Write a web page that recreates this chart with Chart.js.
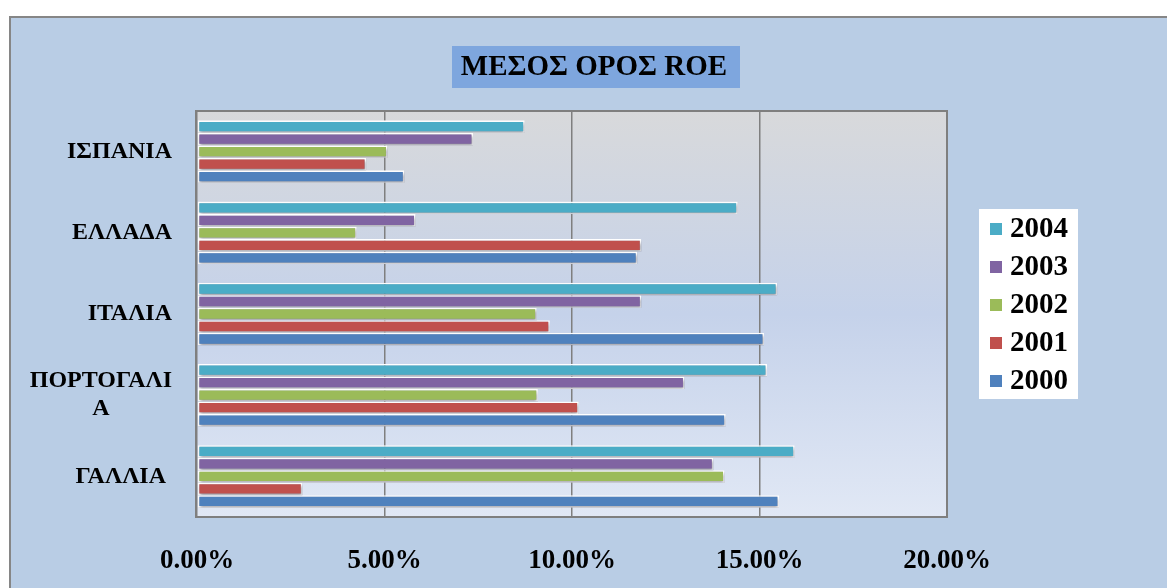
<!DOCTYPE html>
<html><head><meta charset="utf-8">
<script src="https://cdn.jsdelivr.net/npm/chart.js@4.4.0/dist/chart.umd.min.js"></script>
<style>html,body{margin:0;padding:0;background:#fff;overflow:hidden}</style>
</head><body>
<canvas id="c" width="1167" height="588" style="display:block;width:1167px;height:588px"></canvas>
<script>
const chartTitle = 'ΜΕΣΟΣ ΟΡΟΣ ROE';
const categories = ['ΙΣΠΑΝΙΑ', 'ΕΛΛΑΔΑ', 'ΙΤΑΛΙΑ', ['ΠΟΡΤΟΓΑΛΙ', 'Α'], 'ΓΑΛΛΙΑ '];
const years = ['2004', '2003', '2002', '2001', '2000'];
const roe2004 = [8.74, 14.42, 15.47, 15.20, 15.94];
const roe2003 = [7.36, 5.83, 11.85, 13.00, 13.77];
const roe2002 = [5.08, 4.26, 9.06, 9.09, 14.07];
const roe2001 = [4.51, 11.85, 9.41, 10.18, 2.81];
const roe2000 = [5.53, 11.74, 15.12, 14.10, 15.52];
const xMin = 0, xMax = 20, xStep = 5;
const colors = ['#4BACC6', '#8064A2', '#9BBB59', '#C0504D', '#4F81BD'];

const SERIF = '"Liberation Serif", "Times New Roman", "DejaVu Serif", serif';
const seriesValues = [roe2004, roe2003, roe2002, roe2001, roe2000];

const bgPlugin = {
  id: 'bg',
  beforeDraw(chart) {
    const ctx = chart.ctx, a = chart.chartArea;
    ctx.save();
    ctx.fillStyle = '#ffffff';
    ctx.fillRect(0, 0, chart.width, chart.height);
    ctx.fillStyle = '#B9CDE5';
    ctx.fillRect(10, 17, chart.width + 20, chart.height + 20);
    ctx.strokeStyle = '#868686';
    ctx.lineWidth = 2;
    ctx.strokeRect(10, 17, chart.width + 20, chart.height + 20);
    // plot area gradient
    const g = ctx.createLinearGradient(0, a.top, 0, a.bottom);
    g.addColorStop(0, '#D8D9DB');
    g.addColorStop(0.5, '#C5D2EA');
    g.addColorStop(1, '#E1E8F5');
    ctx.fillStyle = g;
    ctx.fillRect(a.left, a.top, a.right - a.left, a.bottom - a.top);
    // title box
    ctx.fillStyle = '#7EA6DE';
    ctx.fillRect(452, 46, 288, 42);
    ctx.fillStyle = '#000';
    ctx.font = 'bold 29px ' + SERIF;
    ctx.textAlign = 'center';
    ctx.textBaseline = 'middle';
    ctx.fillText(chartTitle, 594, 68);
    ctx.restore();
  },
  beforeDatasetsDraw(chart) {
    const ctx = chart.ctx, a = chart.chartArea;
    ctx.save();
    ctx.strokeStyle = '#7F7F7F';
    ctx.lineWidth = 2;
    ctx.strokeRect(a.left - 1, a.top, a.right - a.left + 1, a.bottom - a.top);
    ctx.restore();
    ctx.save();
    ctx.shadowColor = 'rgba(40,40,60,0.45)';
    ctx.shadowBlur = 3;
    ctx.shadowOffsetX = 1;
    ctx.shadowOffsetY = 2;
  },
  afterDatasetsDraw(chart) {
    chart.ctx.restore();
  },
  afterDraw(chart) {
    const ctx = chart.ctx;
    const ys = chart.scales.y;
    ctx.save();
    ctx.fillStyle = '#000';
    ctx.font = 'bold 24px ' + SERIF;
    ctx.textBaseline = 'middle';
    ctx.textAlign = 'center';
    const rightEdge = 172, lh = 28;
    categories.forEach((lab, i) => {
      const lines = Array.isArray(lab) ? lab : [lab];
      const w = Math.max(...lines.map(l => ctx.measureText(l).width));
      const cx = rightEdge - w / 2;
      const cy = ys.getPixelForValue(i);
      lines.forEach((l, j) => {
        ctx.fillText(l, cx, cy + (j - (lines.length - 1) / 2) * lh);
      });
    });
    // legend
    ctx.fillStyle = '#ffffff';
    ctx.fillRect(979, 209, 99, 190);
    ctx.font = 'bold 29px ' + SERIF;
    ctx.textAlign = 'left';
    chart.data.datasets.forEach((ds, i) => {
      const y = 229 + i * 38;
      ctx.fillStyle = ds.backgroundColor;
      ctx.fillRect(990, y - 6, 12, 12);
      ctx.fillStyle = '#000';
      ctx.fillText(ds.label, 1010, y + 1);
    });
    ctx.restore();
  }
};

new Chart(document.getElementById('c'), {
  type: 'bar',
  data: {
    labels: categories,
    datasets: years.map((yr, i) => ({
      label: yr,
      data: seriesValues[i],
      backgroundColor: colors[i],
      borderColor: '#ffffff',
      borderWidth: 1.6,
      borderSkipped: false,
      categoryPercentage: 0.77,
      barPercentage: 1.0
    }))
  },
  options: {
    indexAxis: 'y',
    responsive: false,
    animation: false,
    devicePixelRatio: 1,
    layout: { padding: { top: 111, right: 220, bottom: 0, left: 0 } },
    plugins: { legend: { display: false }, title: { display: false }, tooltip: { enabled: false } },
    scales: {
      x: {
        min: xMin, max: xMax,
        ticks: {
          stepSize: xStep,
          padding: 28,
          color: '#000',
          font: { family: SERIF, size: 27, weight: 'bold' },
          callback: v => v.toFixed(2) + '%'
        },
        grid: { color: '#7F7F7F', lineWidth: 1.5, drawTicks: false },
        border: { display: false },
        afterFit: s => { s.height = 71; }
      },
      y: {
        ticks: { display: false },
        grid: { display: false },
        border: { display: false },
        afterFit: s => { s.width = 197; }
      }
    }
  },
  plugins: [bgPlugin]
});
</script>
</body></html>
